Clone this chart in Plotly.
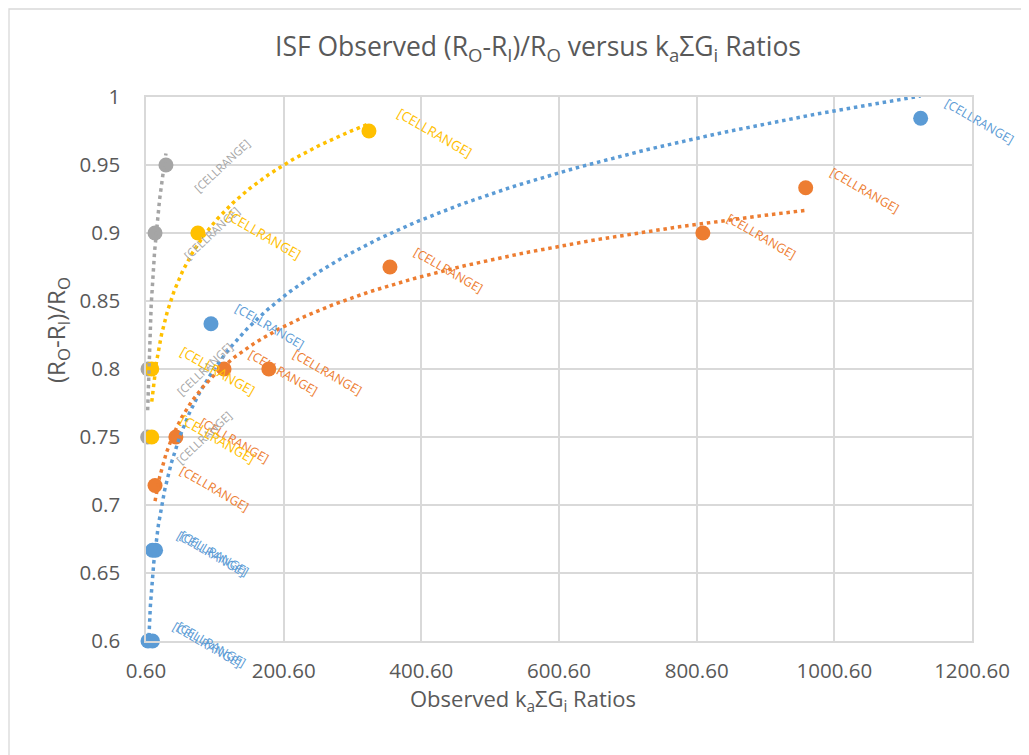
import numpy as np
import plotly.graph_objects as go

# ---------------- data ----------------
blue_x = [3.5, 10.0, 10.0, 14.5, 95.0, 1126.0]
blue_y = [0.6, 0.6, 0.6667, 0.6667, 0.8333, 0.9844]

orange_x = [13.7, 44.0, 114.0, 179.0, 355.0, 809.6, 959.0]
orange_y = [0.7143, 0.75, 0.8, 0.8, 0.875, 0.9, 0.9333]

gray_x = [3.0, 3.5, 13.7, 29.6]
gray_y = [0.75, 0.8, 0.9, 0.95]

yellow_x = [9.0, 9.0, 76.0, 324.5]
yellow_y = [0.75, 0.8, 0.9, 0.975]

label_text = "[CELLRANGE]"

x_tickvals = [0.6, 200.6, 400.6, 600.6, 800.6, 1000.6, 1200.6]
x_ticktext = ["0.60", "200.60", "400.60", "600.60", "800.60", "1000.60", "1200.60"]
y_tickvals = [0.6, 0.65, 0.7, 0.75, 0.8, 0.85, 0.9, 0.95, 1.0]
y_ticktext = ["0.6", "0.65", "0.7", "0.75", "0.8", "0.85", "0.9", "0.95", "1"]

BLUE = "#5B9BD5"
ORANGE = "#ED7D31"
GRAY = "#A5A5A5"
YELLOW = "#FFC000"
TXT = "#595959"
GRID = "#D9D9D9"
FONT = "Open Sans"

series = [
    dict(name="s1", x=blue_x, y=blue_y, color=BLUE, angle=30, dx=59, dy=-3, fs=12.5),
    dict(name="s2", x=orange_x, y=orange_y, color=ORANGE, angle=30, dx=59, dy=-3, fs=12.5),
    dict(name="s3", x=gray_x, y=gray_y, color=GRAY, angle=-43, dx=56, dy=0, fs=11.5),
    dict(name="s4", x=yellow_x, y=yellow_y, color=YELLOW, angle=30, dx=66, dy=-2, fs=13.5),
]


def power_fit(xs, ys):
    lx = np.log(np.asarray(xs, float))
    ly = np.log(np.asarray(ys, float))
    p, lc = np.polyfit(lx, ly, 1)
    return np.exp(lc), p


fig = go.Figure()

# markers
for s in series:
    fig.add_trace(go.Scatter(
        x=s["x"], y=s["y"], mode="markers", name=s["name"],
        marker=dict(size=15, color=s["color"], line=dict(width=0)),
        cliponaxis=False, showlegend=False, hoverinfo="skip"))

# power trendlines (fit computed from the data above)
for s in series:
    c, p = power_fit(s["x"], s["y"])
    tx = np.geomspace(min(s["x"]), max(s["x"]), 300)
    ty = c * tx ** p
    fig.add_trace(go.Scatter(
        x=tx, y=ty, mode="lines", showlegend=False, hoverinfo="skip",
        line=dict(color=s["color"], width=3.5, dash="3.5px,3.8px")))

# data labels
annotations = []
for s in series:
    for xv, yv in zip(s["x"], s["y"]):
        annotations.append(dict(
            x=xv, y=yv, xref="x", yref="y", text=label_text, showarrow=False,
            textangle=s["angle"], xanchor="center", yanchor="middle",
            xshift=s["dx"], yshift=s["dy"],
            font=dict(family=FONT, size=s["fs"], color=s["color"])))

# plot-area pixel geometry in the page (used only to place titles/border)
PL, PR, PT, PB = 146, 972, 97, 641
PW, PH = PR - PL, PB - PT


def px(xp):
    return (xp - PL) / PW


def py(yp):
    return (PB - yp) / PH


annotations.append(dict(
    text="ISF Observed (R<sub>O</sub>-R<sub>I</sub>)/R<sub>O</sub> versus k<sub>a</sub>ΣG<sub>i</sub> Ratios",
    xref="paper", yref="paper", x=px(538), y=py(48),
    xanchor="center", yanchor="middle", showarrow=False,
    font=dict(family=FONT, size=26.5, color=TXT)))
annotations.append(dict(
    text="Observed k<sub>a</sub>ΣG<sub>i</sub> Ratios",
    xref="paper", yref="paper", x=px(523), y=py(700),
    xanchor="center", yanchor="middle", showarrow=False,
    font=dict(family=FONT, size=22, color=TXT)))
annotations.append(dict(
    text="(R<sub>O</sub>-R<sub>I</sub>)/R<sub>O</sub>",
    xref="paper", yref="paper", x=px(57), y=py(330),
    xanchor="center", yanchor="middle", showarrow=False, textangle=-90,
    font=dict(family=FONT, size=24, color=TXT)))

# the page adds an 8px body margin, so shrink the figure by 8px and shift margins
fig.update_layout(
    width=1021, height=747,
    margin=dict(l=PL - 8, r=1021 - (PL - 8) - PW, t=PT - 8, b=747 - (PT - 8) - PH),
    paper_bgcolor="white", plot_bgcolor="white",
    font=dict(family=FONT, color=TXT),
    annotations=annotations,
    shapes=[dict(type="rect", xref="paper", yref="paper",
                 x0=px(9), x1=px(1040), y0=py(770), y1=py(9),
                 line=dict(color=GRID, width=1.3), fillcolor="rgba(0,0,0,0)",
                 layer="below")],
    xaxis=dict(range=[0.6, 1200.6], tickvals=x_tickvals, ticktext=x_ticktext,
               showgrid=True, gridcolor=GRID, gridwidth=1.5,
               showline=True, linecolor=GRID, linewidth=1.5, mirror=True,
               zeroline=False, ticks="", ticklabelstandoff=11,
               tickfont=dict(family=FONT, size=20.5, color=TXT)),
    yaxis=dict(range=[0.6, 1.0], tickvals=y_tickvals, ticktext=y_ticktext,
               showgrid=True, gridcolor=GRID, gridwidth=1.5,
               showline=True, linecolor=GRID, linewidth=1.5, mirror=True,
               zeroline=False, ticks="", ticklabelstandoff=20,
               tickfont=dict(family=FONT, size=20.5, color=TXT)),
)

fig.write_html("out.html")
